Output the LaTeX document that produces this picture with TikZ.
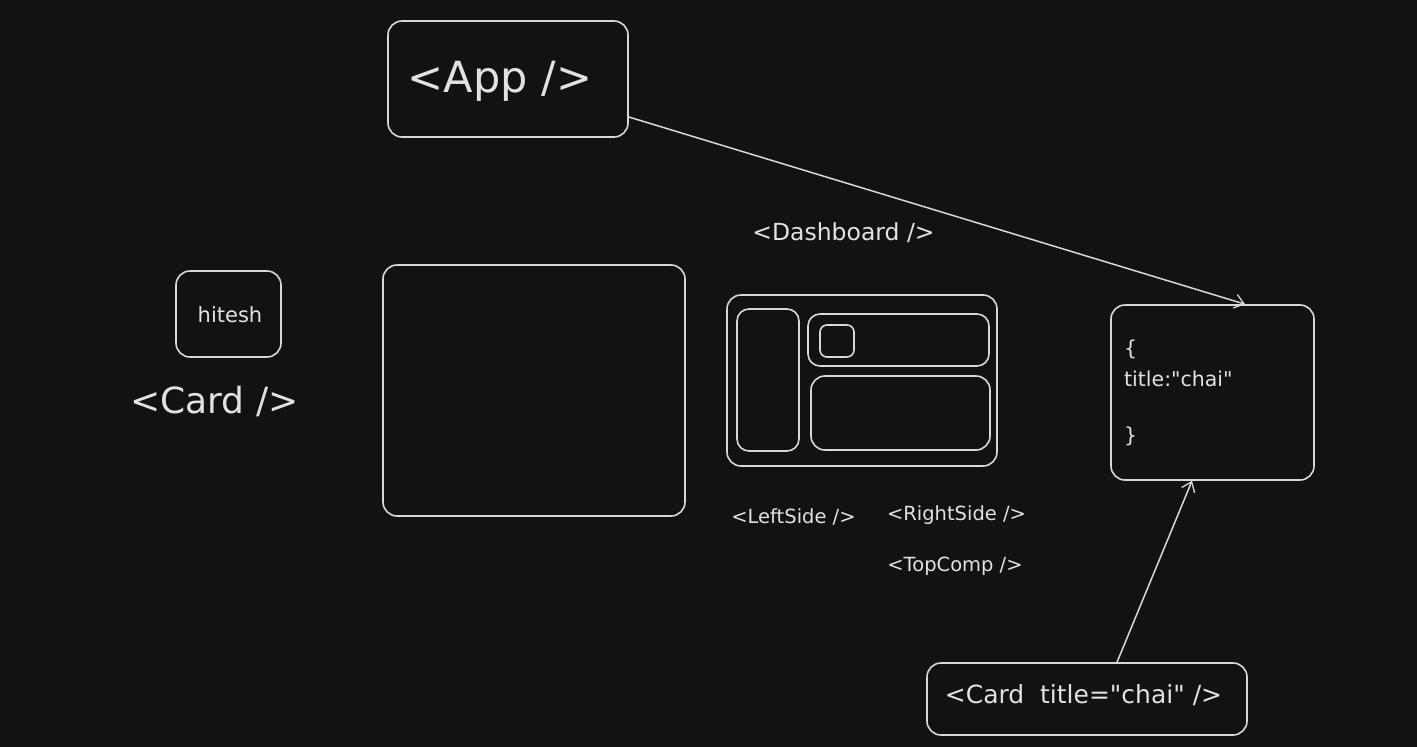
\documentclass[tikz,border=0pt]{standalone}
\usepackage{fontspec}
\setmainfont{DejaVu Sans}[Ligatures=TeXOff]
\usetikzlibrary{arrows.meta}
\definecolor{bg}{HTML}{121212}
\definecolor{ink}{HTML}{D8D8D8}
\definecolor{txt}{HTML}{E2E2E2}
\tikzset{
  box/.style={draw=ink, line width=1.6pt, rounded corners=14pt, inner sep=0pt},
  lbl/.style={text=txt, inner sep=0pt},
  conn/.style={draw=ink, line width=1.5pt, -{Straight Barb[length=9pt,width=14pt,line width=1.3pt]}}
}
\begin{document}
\begin{tikzpicture}[x=1pt,y=-1pt]
\fill[bg] (0,0) rectangle (1417,747);
\useasboundingbox (0,0) rectangle (1417,747);
% App
\node[box, minimum width=240pt, minimum height=116pt] (app) at (508,79) {};
\node[lbl, font=\fontsize{43}{50}\selectfont] (apptext) at (500,81) {<App />};
% Card
\node[box, minimum width=105pt, minimum height=86pt] (hitesh) at (228.5,314) {};
\node[lbl, font=\fontsize{21}{24}\selectfont] (hiteshtext) at (230,315) {hitesh};
\node[lbl, font=\fontsize{36}{40}\selectfont] (cardlbl) at (214.5,401) {<Card />};
% big empty box
\node[box, minimum width=302pt, minimum height=251pt] (big) at (534,390.5) {};
% Dashboard
\node[lbl, font=\fontsize{23.5}{27}\selectfont] (dashlbl) at (843.5,233) {<Dashboard />};
\node[box, minimum width=270pt, minimum height=171pt] (dash) at (862,380.5) {};
\node[box, rounded corners=12pt, minimum width=62pt, minimum height=142pt] (left) at (768,380) {};
\node[box, rounded corners=12pt, minimum width=181pt, minimum height=52pt] (top) at (898.5,340) {};
\node[box, rounded corners=7pt, minimum width=34pt, minimum height=32pt] (small) at (837,341) {};
\node[box, rounded corners=14pt, minimum width=179pt, minimum height=74pt] (bottom) at (900.5,413) {};
\node[lbl, font=\fontsize{19.5}{23}\selectfont] (leftlbl) at (793.5,517) {<LeftSide />};
\node[lbl, font=\fontsize{19.5}{23}\selectfont] (rightlbl) at (956.5,515) {<RightSide />};
\node[lbl, font=\fontsize{19.5}{23}\selectfont] (toplbl) at (955,566) {<TopComp />};
% props object
\node[box, minimum width=203pt, minimum height=175pt] (obj) at (1212.5,392.5) {};
\node[lbl, font=\fontsize{20.5}{31}\selectfont, align=left, anchor=north west] (objtext) at (1124,340) {\{\\title:"chai"\\[25pt]\}};
% Card with title
\node[box, minimum width=320pt, minimum height=72pt] (cardt) at (1087,699) {};
\node[lbl, font=\fontsize{25}{30}\selectfont] (cardttext) at (1083.5,695) {<Card\ \ title="chai"\ />};
% connectors
\draw[conn] ([yshift=-38pt]app.east) -- ([xshift=32.5pt]obj.north);
\draw[conn] ([xshift=30pt]cardt.north) -- ([xshift=-20.5pt]obj.south);
\end{tikzpicture}
\end{document}
